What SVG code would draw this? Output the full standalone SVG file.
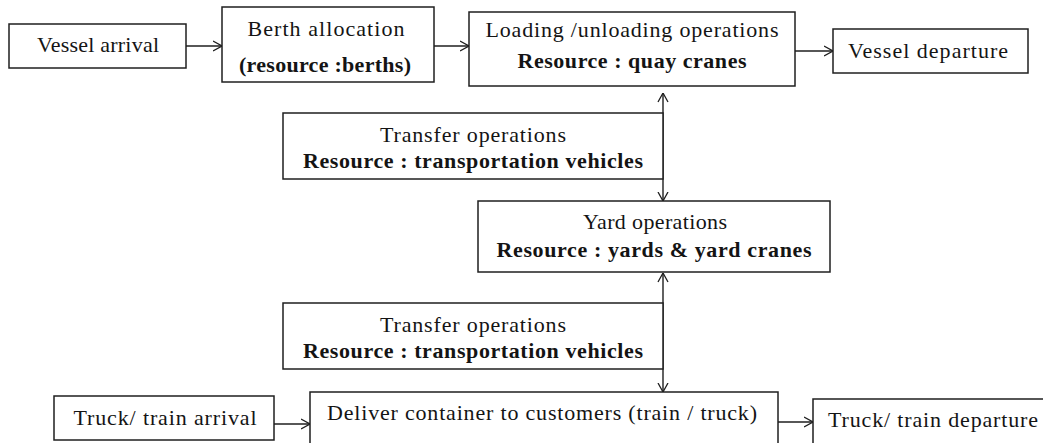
<svg xmlns="http://www.w3.org/2000/svg" width="1043" height="443" viewBox="0 0 1043 443" font-family="Liberation Serif" font-size="22">
  <style>
    .box { fill: #ffffff; stroke: #1f1f1f; stroke-width: 1.5; }
    .t { fill: #141414; text-anchor: middle; }
    .b { font-weight: bold; }
    .conn { fill: none; stroke: #1f1f1f; stroke-width: 1.4; }
  </style>
  <defs>
    <marker id="arr" viewBox="0 0 10 12" refX="9.5" refY="6" markerWidth="10" markerHeight="12" markerUnits="userSpaceOnUse" orient="auto-start-reverse">
      <path d="M0.5,1 L9.5,6 L0.5,11" fill="none" stroke="#1f1f1f" stroke-width="1.3"/>
    </marker>
  </defs>
  <rect width="1043" height="443" fill="#ffffff"/>

  <g id="connectors">
    <line class="conn" x1="186" y1="46" x2="222" y2="46" marker-end="url(#arr)"/>
    <line class="conn" x1="434" y1="46" x2="469" y2="46" marker-end="url(#arr)"/>
    <line class="conn" x1="795" y1="51" x2="833" y2="51" marker-end="url(#arr)"/>
    <line class="conn" x1="663" y1="93" x2="663" y2="201" marker-start="url(#arr)" marker-end="url(#arr)"/>
    <line class="conn" x1="663" y1="273" x2="663" y2="392" marker-start="url(#arr)" marker-end="url(#arr)"/>
    <line class="conn" x1="274" y1="424" x2="310" y2="424" marker-end="url(#arr)"/>
    <line class="conn" x1="778" y1="422" x2="813" y2="422" marker-end="url(#arr)"/>
  </g>

  <g id="vessel-arrival">
    <rect class="box" x="9" y="24" width="177" height="44"/>
    <text class="t" x="98" y="52" textLength="122" lengthAdjust="spacing">Vessel arrival</text>
  </g>

  <g id="berth-allocation">
    <rect class="box" x="222" y="7" width="212" height="75"/>
    <text class="t" x="326" y="36" textLength="157" lengthAdjust="spacing">Berth allocation</text>
    <text class="t b" x="325" y="72" textLength="172" lengthAdjust="spacing">(resource :berths)</text>
  </g>

  <g id="loading-unloading">
    <rect class="box" x="469" y="12" width="326" height="74"/>
    <text class="t" x="632" y="37" textLength="293" lengthAdjust="spacing">Loading /unloading operations</text>
    <text class="t b" x="632" y="68" textLength="229" lengthAdjust="spacing">Resource : quay cranes</text>
  </g>

  <g id="vessel-departure">
    <rect class="box" x="833" y="29" width="195" height="44"/>
    <text class="t" x="928" y="58" textLength="160" lengthAdjust="spacing">Vessel departure</text>
  </g>

  <g id="transfer-operations-1">
    <rect class="box" x="283" y="113" width="380" height="66"/>
    <text class="t" x="473" y="142" textLength="186" lengthAdjust="spacing">Transfer operations</text>
    <text class="t b" x="473" y="168" textLength="340" lengthAdjust="spacing">Resource : transportation vehicles</text>
  </g>

  <g id="yard-operations">
    <rect class="box" x="478" y="201" width="352" height="71"/>
    <text class="t" x="655" y="229" textLength="144" lengthAdjust="spacing">Yard operations</text>
    <text class="t b" x="654" y="257" textLength="315" lengthAdjust="spacing">Resource : yards &amp; yard cranes</text>
  </g>

  <g id="transfer-operations-2">
    <rect class="box" x="283" y="303" width="380" height="66"/>
    <text class="t" x="473" y="332" textLength="186" lengthAdjust="spacing">Transfer operations</text>
    <text class="t b" x="473" y="358" textLength="340" lengthAdjust="spacing">Resource : transportation vehicles</text>
  </g>

  <g id="truck-train-arrival">
    <rect class="box" x="54" y="396" width="220" height="44"/>
    <text class="t" x="165" y="425" textLength="183" lengthAdjust="spacing">Truck/ train arrival</text>
  </g>

  <g id="deliver-container">
    <rect class="box" x="310" y="392" width="468" height="70"/>
    <text class="t" x="542" y="420" textLength="430" lengthAdjust="spacing">Deliver container to customers (train / truck)</text>
  </g>

  <g id="truck-train-departure">
    <rect class="box" x="813" y="399" width="250" height="60"/>
    <text class="t" x="933" y="427" textLength="210" lengthAdjust="spacing">Truck/ train departure</text>
  </g>
</svg>
